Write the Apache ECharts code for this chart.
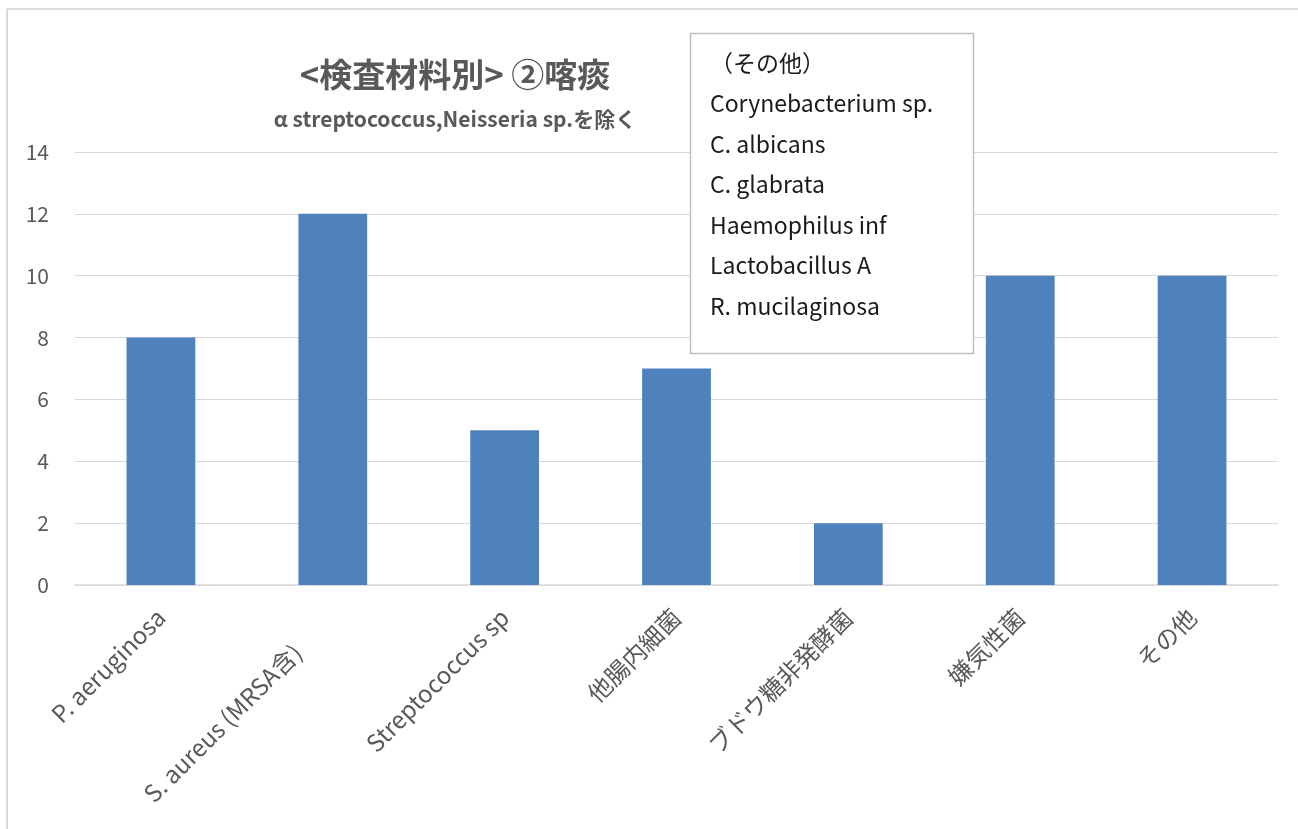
<!DOCTYPE html>
<html><head><meta charset="utf-8">
<script src="https://cdn.jsdelivr.net/npm/echarts@6/dist/echarts.min.js"></script>
<style>html,body{margin:0;padding:0;background:#fff}#c{width:1298px;height:829px}</style>
</head><body><div id="c"></div>
<script>
const categories = ['P. aeruginosa','S. aureus (MRSA含)','Streptococcus sp','他腸内細菌','ブドウ糖非発酵菌','嫌気性菌','その他'];
const values = [8, 12, 5, 7, 2, 10, 10];
const yTicks = [0, 2, 4, 6, 8, 10, 12, 14];
const titleText = '<検査材料別> ②喀痰';
const subtitleText = 'α streptococcus,Neisseria sp.を除く';
const noteLines = ['（その他）','Corynebacterium sp.','C. albicans','C. glabrata','Haemophilus inf','Lactobacillus A','R. mucilaginosa'];

const FONT = '"Noto Sans CJK JP", "Noto Sans", sans-serif';
const chart = echarts.init(document.getElementById('c'));
const noteEls = noteLines.map((t, i) => ({
  type: 'text', z: 11,
  style: { x: 710, y: 63 + i * 40.5, text: t, fontSize: 23, fontFamily: FONT, fill: '#1a1a1a', verticalAlign: 'middle', align: 'left' }
}));
const catData = categories.map((c, i) => i === 1 ? { value: c, textStyle: { padding: [0, 50, 0, 0] } } : c);
chart.setOption({
  animation: false,
  textStyle: { fontFamily: FONT },
  title: [
    { text: titleText, left: 450, top: 53, textAlign: 'center',
      textStyle: { fontSize: 33, fontWeight: 'bold', color: '#595959', fontFamily: FONT } },
    { text: subtitleText, left: 450, top: 104, textAlign: 'center',
      textStyle: { fontSize: 21, fontWeight: 'bold', color: '#595959', fontFamily: FONT } }
  ],
  grid: { left: 75, right: 20, top: 152, bottom: 244, containLabel: false },
  xAxis: {
    type: 'category', data: catData,
    axisLine: { lineStyle: { color: '#d9d9d9', width: 1.5 } },
    axisTick: { show: false },
    axisLabel: { rotate: 45, fontSize: 24, color: '#595959', margin: 28, interval: 0, fontFamily: FONT }
  },
  yAxis: {
    type: 'value', min: yTicks[0], max: yTicks[yTicks.length - 1], interval: 2,
    axisLine: { show: false }, axisTick: { show: false },
    axisLabel: { fontSize: 21, color: '#595959', margin: 26, fontFamily: FONT },
    splitLine: { lineStyle: { color: '#d9d9d9', width: 1.2 } }
  },
  series: [{
    type: 'bar', data: values, barWidth: '40%',
    itemStyle: { color: '#4f81bd' }
  }],
  graphic: [
    { type: 'line', shape: { x1: 7, y1: 9, x2: 7, y2: 829 }, style: { stroke: '#d9d9d9', lineWidth: 2 } },
    { type: 'line', shape: { x1: 7, y1: 9, x2: 1298, y2: 9 }, style: { stroke: '#d9d9d9', lineWidth: 2 } },
    { type: 'rect', shape: { x: 690.5, y: 33.5, width: 283, height: 320 },
      style: { fill: '#fff', stroke: '#bfbfbf', lineWidth: 1.5 }, z: 10 }
  ].concat(noteEls)
});
</script></body></html>
